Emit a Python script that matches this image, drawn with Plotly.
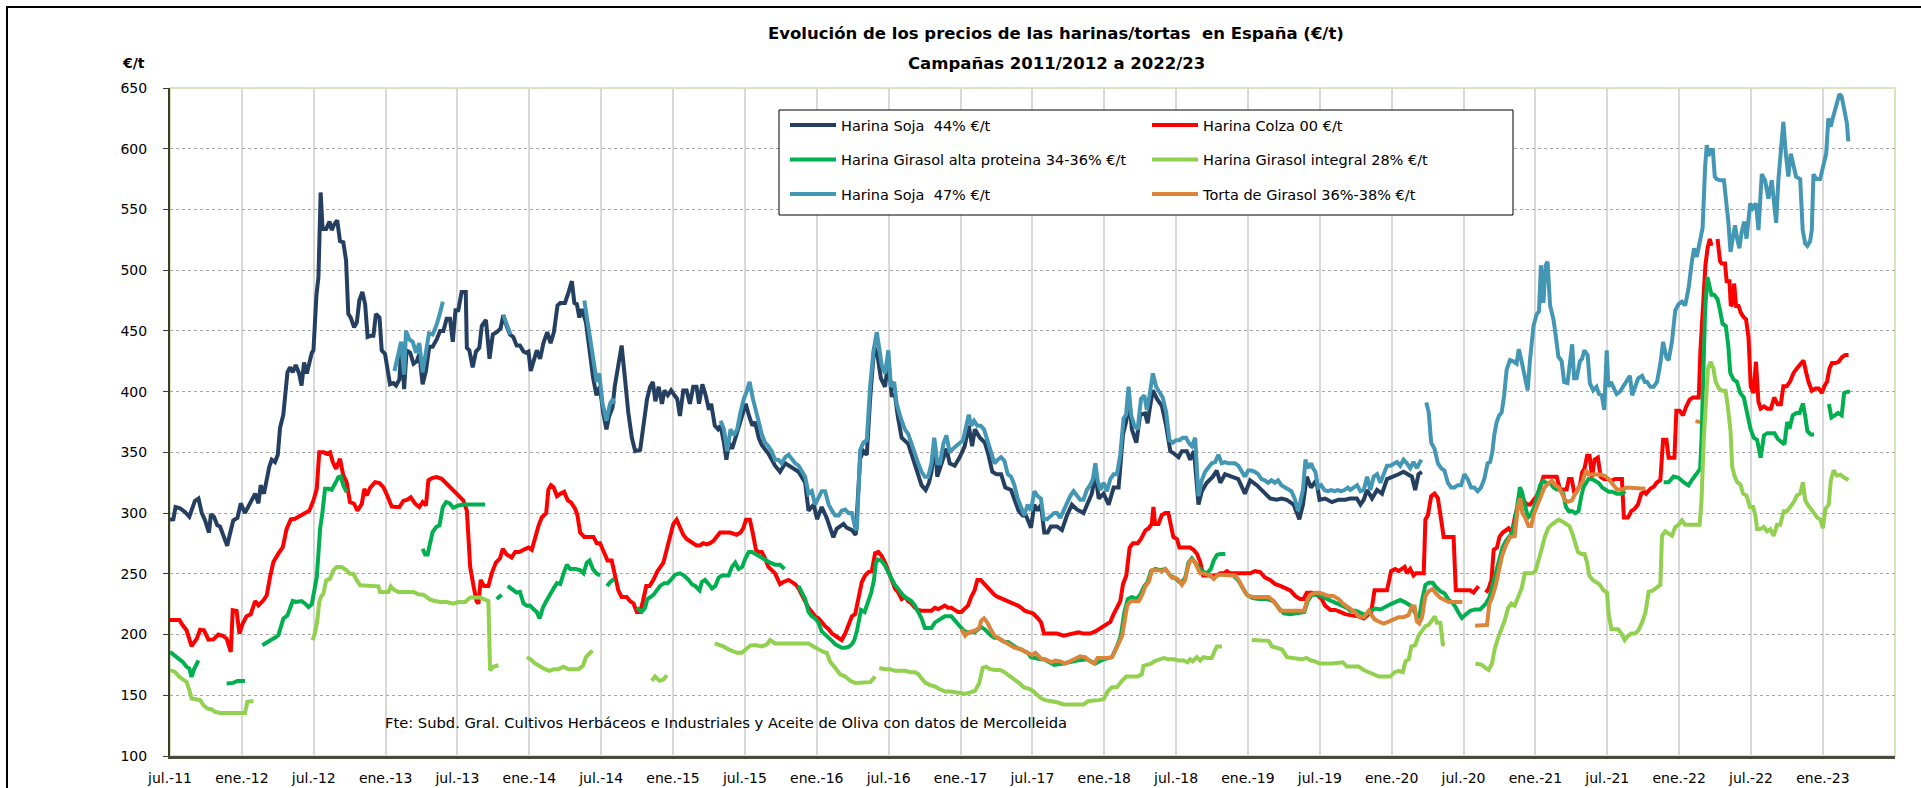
import plotly.graph_objects as go

# ---------------- axis categories ----------------
# x = week index counted from the first week of July 2011 (one category per week)
tick_weeks = list(range(0, 599, 26))
tick_labels = ["jul.-11", "ene.-12", "jul.-12", "ene.-13", "jul.-13", "ene.-14", "jul.-14",
               "ene.-15", "jul.-15", "ene.-16", "jul.-16", "ene.-17", "jul.-17", "ene.-18",
               "jul.-18", "ene.-19", "jul.-19", "ene.-20", "jul.-20", "ene.-21", "jul.-21",
               "ene.-22", "jul.-22", "ene.-23"]
y_ticks = list(range(100, 651, 50))

# ---------------- series (week, €/t); None = no quotation ----------------
soja44 = [
    (0, 294.5), (1.2, 295), (2, 305), (3.6, 304), (5.4, 301), (7, 297), (9, 310), (10.3, 312),
    (11.5, 300), (12.7, 294), (14.1, 284), (14.8, 299), (15.9, 297), (17.1, 290), (18.1, 289),
    (19.3, 282), (20.7, 273), (21.7, 283), (22.9, 294), (24.4, 296), (25.6, 308), (27.1, 300),
    (28.3, 305), (29.6, 312), (30.8, 316), (32, 308), (32.8, 323), (34, 316), (35, 330),
    (35.9, 338), (36.8, 344), (38, 342), (39, 348), (39.8, 370), (41, 381), (41.9, 398),
    (42.5, 416), (43.4, 420), (44.4, 416), (45.5, 422), (46.7, 415), (47.6, 405), (48.5, 424),
    (49.5, 415), (50.4, 424), (51.3, 432), (51.9, 434), (52.5, 464), (53, 480), (53.7, 494),
    (54.5, 564), (55.2, 534), (56.5, 534), (57.7, 540), (58.5, 533), (59.5, 538), (60.5, 541),
    (61.5, 524), (62.7, 523), (63.7, 508), (64.5, 464), (65.4, 461), (66.6, 453), (67.6, 457),
    (68.5, 475), (69.6, 482), (70.6, 472), (71.5, 445), (72.6, 446), (73.6, 446), (74.5, 464),
    (75.8, 461), (76.6, 434), (77.8, 431), (78.6, 420), (79.6, 406), (80.8, 407), (81.8, 405),
    (83, 410), (83.8, 441), (84.7, 402), (85.6, 434), (86.9, 432), (88.1, 423), (89.3, 425),
    (90.2, 431), (91.4, 406), (92.6, 417), (93.8, 437), (95, 437), (96.5, 443), (97.7, 450),
    (98.9, 450), (100.1, 460), (101.3, 460), (102.3, 441), (103.3, 467), (104.3, 467),
    (105.5, 482), (107, 482), (107.4, 436), (108.3, 434), (109.5, 420), (110.7, 433),
    (111.9, 436), (112.8, 454), (114.3, 459), (115.6, 427), (116.8, 447), (118.2, 449),
    (119.6, 452), (120.6, 463), (121.8, 454), (123, 447), (124.2, 445), (125.4, 438),
    (126.6, 438), (127.9, 433), (128.8, 432), (129.7, 433), (130.5, 417), (131.7, 426),
    (132.7, 434), (133.9, 427), (135.1, 440), (136.5, 449), (137.7, 440), (138.9, 449),
    (140.2, 471), (141.2, 473), (142.9, 473), (144.2, 482), (145.4, 491), (146.3, 473),
    (147.2, 472), (148.1, 461), (149, 468), (150.5, 457), (151.9, 433), (153.1, 411),
    (154.3, 397), (155.5, 404), (156.7, 383), (157.9, 369), (158.9, 380), (160.1, 387),
    (160.9, 404), (162.1, 422), (163.4, 438), (164.6, 411), (165.8, 383), (167.1, 362),
    (168.3, 351), (170.1, 352), (171.3, 372), (172.6, 394), (173.7, 404), (174.7, 408),
    (175.6, 392), (176.8, 404), (178, 390), (178.9, 401), (180.1, 397), (181.3, 401),
    (182.5, 397), (183.5, 394), (184.5, 380), (185.7, 401), (186.9, 401), (188.1, 390),
    (189.3, 404), (190.5, 404), (191.4, 390), (192.6, 406), (193.8, 397), (195, 385),
    (195.8, 390), (197.1, 372), (198.3, 369), (199.2, 372), (200.4, 358), (201.3, 344),
    (202.2, 358), (203.4, 353), (204.6, 362), (205.8, 372), (207.1, 381), (208.3, 390),
    (209.5, 380), (210.7, 372), (211.7, 375), (213, 362), (214.1, 356), (216.5, 349),
    (218.9, 339), (220.7, 334), (222.6, 341), (225, 337), (227.4, 334), (229.8, 325),
    (231, 302), (232.9, 307), (234.1, 295), (235.8, 305), (237.6, 296), (240, 280),
    (241.2, 287), (242.4, 289), (243.7, 291), (244.8, 288), (246.7, 286), (248.1, 282),
    (249.7, 345), (250.9, 351), (252.1, 348), (253.3, 394), (254.8, 437), (256, 429),
    (257.2, 411), (258.7, 404), (259.9, 426), (261.1, 397), (262.3, 397), (263.3, 380),
    (264.7, 362), (267.1, 357), (269.5, 341), (271.9, 323), (273.4, 319), (274.6, 325),
    (275.5, 334), (276.7, 358), (277.6, 330), (279.1, 341), (280.9, 353), (282.1, 341),
    (283.9, 339), (285.7, 346), (287.5, 355), (289, 372), (290.2, 355), (291.2, 369),
    (293, 362), (294.8, 358), (296, 349), (297.5, 334), (299, 332), (300.7, 332),
    (302.2, 321), (304.3, 319), (305.5, 312), (307, 302), (308.5, 298), (309.7, 298),
    (311.5, 288), (312.7, 307), (313.9, 302), (315.1, 307), (316.3, 284), (317.5, 284),
    (318.7, 289), (320.9, 289), (322.7, 286), (324.5, 298), (326.3, 307), (328.1, 303),
    (330.5, 300), (332.3, 311), (333.5, 316), (334.8, 332), (336, 312), (337.8, 316),
    (339.6, 307), (341.4, 321), (343.2, 321), (344.8, 365), (346, 376), (347, 395),
    (348, 369), (349.6, 358), (351, 381), (352.8, 382), (353.7, 374), (354.6, 388),
    (355.6, 401), (357.1, 394), (358.9, 388), (360.4, 372), (361.9, 351), (363.3, 349),
    (364.9, 346), (366.1, 351), (367.9, 351), (369.1, 344), (370.5, 351), (372.1, 307),
    (373.3, 318), (375.1, 325), (377.3, 330), (378.7, 335), (380, 325), (381.7, 332),
    (384.1, 330), (386.5, 328), (388.9, 316), (390.8, 327), (393.2, 323), (395.6, 318),
    (398, 312), (400.4, 311), (402.2, 312), (404, 311), (406.5, 307), (408.6, 295),
    (409.9, 307), (411.3, 330), (412.8, 321), (414.7, 327), (415.9, 311), (417.9, 312),
    (420.4, 309), (422.8, 311), (425.2, 311), (427, 312), (429.4, 312), (430.7, 307),
    (431.9, 311), (433.1, 319), (434.9, 312), (436.7, 319), (438.5, 316), (440.3, 328),
    (442.7, 330), (444.5, 332), (446.3, 334), (448.1, 332), (449.3, 330), (450.5, 319),
    (451.7, 332), (452.9, 334),
]

colza = [
    (0, 212), (3.4, 212), (4.6, 207.6), (6, 203.5), (7.8, 190.4), (9.7, 196.6), (10.9, 204),
    (12.3, 203.5), (13.9, 195.8), (15.7, 196), (17.5, 200), (19.1, 199), (20.5, 196.6),
    (22, 185.7), (22.7, 220), (24.1, 219.4), (25.1, 200.8), (26.3, 209), (27.7, 215),
    (29.2, 216.7), (30.8, 227.6), (32, 224), (33.8, 228.2), (35, 232.3), (36.2, 247.4),
    (37.4, 259.7), (39.2, 266.6), (40.8, 272), (42.2, 287), (43.7, 294.8), (45.2, 295.3),
    (47, 298), (48.9, 300), (50.4, 302), (51.9, 310.4), (53.1, 320), (54, 350), (55.7, 350),
    (56.7, 348.8), (57.9, 350), (58.9, 342), (60.1, 336.5), (61.5, 344.7), (62.7, 331),
    (63.9, 325.5), (65.1, 309), (66.6, 307.7), (67.8, 302), (69.4, 307.7), (70.3, 320),
    (71.2, 314.5), (72.4, 320.8), (74.2, 325.5), (75.8, 324.7), (77.2, 321.4), (78.6, 314.5),
    (80.2, 305.5), (81.8, 305), (83, 305), (84.4, 310), (85.9, 311), (87.1, 313),
    (88.7, 307.7), (90.2, 305), (91.4, 309), (92.6, 306.3), (93.5, 327), (95, 329),
    (96.5, 329.6), (98.3, 328.2), (100.1, 324), (101.3, 320.8), (102.5, 318.6),
    (104.3, 314.5), (106.1, 310.5), (107.4, 302), (108.6, 255.7), (109.8, 240),
    (110.9, 227.4), (111.6, 225.6), (112.4, 245), (113.6, 240), (115.2, 240), (116.4, 250.4),
    (117.9, 259.2), (119.4, 262.8), (120.4, 270.5), (121.8, 266), (123.6, 263.5), (124.9, 268),
    (126.4, 268), (127.9, 269.8), (129.7, 271.6), (130.9, 269.8), (132.1, 280.4),
    (133.3, 289.3), (134.5, 296.4), (136.1, 300), (136.9, 319.4), (137.8, 323), (138.8, 321.2),
    (140, 314), (141.2, 315.9), (142.6, 317.6), (143.9, 310.5), (145.1, 308.8), (146.6, 303.5),
    (147.4, 298.2), (148.4, 284), (149.9, 280.4), (153.2, 280.4), (154.4, 275.2),
    (155.6, 275.2), (157.1, 266.3), (158.3, 261), (159.8, 261), (161, 248.6), (162.2, 236.4),
    (163.4, 231), (165.2, 231), (166.5, 227.4), (167.7, 225.6), (168.9, 218.6), (170.1, 218.6),
    (171.1, 227.4), (172.3, 240), (173.5, 240), (174.9, 245), (176.3, 252), (177.3, 255.7),
    (178.5, 259.2), (179.7, 269.8), (180.9, 282.2), (182.1, 291), (183.3, 294.6),
    (184.5, 289.3), (185.7, 282.2), (186.9, 278.7), (188.1, 277), (189.3, 275.2),
    (190.5, 273.4), (191.7, 273.4), (192.9, 275.2), (194.2, 274.3), (195.4, 275.2),
    (196.6, 277), (197.8, 280.4), (199, 284), (202.6, 284), (203.8, 283.3), (205, 282.2),
    (206.4, 284), (207.4, 287.5), (208.4, 294.6), (209.8, 294.6), (210.8, 284), (212, 269.8),
    (212.9, 268), (214.1, 268), (215.3, 262.8), (216.5, 255.7), (217.7, 253), (218.9, 250.4),
    (220.7, 241.5), (221.9, 243.3), (223.8, 245), (225, 243.3), (226.2, 241.5), (227.4, 238),
    (228.6, 232.7), (229.8, 227.4), (231, 222), (232.2, 218.6), (233.4, 215), (234.6, 213.3),
    (235.8, 209.8), (237, 206.9), (238.3, 204.4), (239.5, 200.8), (240.7, 199),
    (241.9, 197.3), (243, 195.5), (244.3, 200.8), (245.5, 207.9), (246.7, 215), (247.9, 216.8),
    (249.1, 229.2), (250.3, 243.3), (251.5, 248.6), (252.7, 251.5), (253.9, 252.2),
    (255.1, 267), (256.3, 268), (257.5, 264.6), (258.7, 259.2), (259.9, 252.2), (261.1, 245),
    (262.3, 238), (263.5, 234.5), (264.7, 229.2), (265.9, 231), (267.1, 227.4),
    (268.3, 225.6), (269.5, 222), (270.7, 220.3), (271.9, 219.6), (275.5, 219.6),
    (276.7, 222), (277.9, 220.9), (279.1, 222), (280.3, 223.8), (281.5, 222), (282.7, 222),
    (283.9, 220.3), (285.1, 218.6), (286.3, 218.6), (287.5, 220.9), (288.7, 223.8),
    (289.9, 231), (291.1, 236.4), (292.1, 245), (293.3, 245), (294.7, 241.5), (296, 238),
    (297.1, 235.2), (298.3, 232.7), (299.5, 231), (301.4, 229.2), (303.2, 227.4),
    (305, 225.6), (306.8, 223.8), (308, 222), (309.2, 219.6), (310.4, 218.6), (312.2, 217.5),
    (314, 213.3), (315.2, 209.8), (316.2, 200.8), (320.9, 200.8), (323.3, 199),
    (325.1, 199.7), (326.9, 200.4), (328.7, 201.8), (330.5, 200.8), (332.9, 200.8),
    (334.8, 202.6), (336.6, 205.4), (338.4, 207.9), (340.2, 210.4), (341.4, 216.8),
    (342.6, 222), (343.8, 227.4), (344.8, 241.5), (346, 248.6), (347.2, 271.6),
    (348.4, 275.2), (350.1, 275.2), (351.3, 278.7), (352.9, 285.8), (354.1, 287.5),
    (355.2, 291), (355.8, 305), (356.4, 291), (357.6, 291), (358.8, 298.2), (360, 300),
    (361.2, 300), (362.1, 291), (363, 280.4), (364.3, 278.7), (365.2, 271.6), (369.1, 271.6),
    (370.3, 269.8), (371.6, 266.3), (372.8, 259.2), (373.8, 248.6), (378.8, 248.6),
    (380, 250.4), (381.2, 250.4), (382.4, 252.2), (383.6, 250.4), (390.8, 250.4),
    (392.6, 252.2), (394.4, 251.5), (396.2, 246.8), (398, 245), (399.9, 241.5), (401.7, 240),
    (403.5, 238), (405.3, 236.4), (407.1, 231.8), (408.9, 229.2), (410.1, 229.2),
    (411.3, 234.5), (413.1, 234.5), (414.9, 232.7), (416.7, 229.2), (417.9, 223.8),
    (419.8, 220.3), (421.6, 220.3), (423.4, 218.6), (425.2, 216.8), (427, 216), (430, 215),
    (431.9, 213.3), (433.7, 216.8), (434.6, 218.6), (435.8, 236.4), (440.3, 236.4),
    (441.8, 252.2), (443.3, 254), (444.5, 252.2), (445.7, 254), (446.7, 255.7), (447.5, 250.4),
    (448.7, 254), (449.9, 248.6), (450.8, 250.4), (453.6, 250.4), (454.2, 294.6),
    (455.1, 298.2), (456.3, 314), (457.5, 316), (458.7, 312.3), (459.9, 294.6),
    (460.8, 280.4), (464.4, 280.4), (465.2, 236.4), (470.4, 236.4), (471.6, 234.5),
    (473.4, 239.8), None,
    (476.1, 234.5), (477.1, 238), (478.1, 245), (478.9, 269.8), (480.1, 271.6), (481, 280.4),
    (482.2, 284), (483.4, 285.8), (484.3, 287.5), (485.5, 284), (486.7, 298.2), (487.9, 307),
    (488.9, 316), (489.7, 310.5), (490.9, 307), (492.1, 307), (493.3, 310.5), (494.5, 314),
    (495.7, 321), (496.9, 329.9), (501.7, 329.9), (502.9, 319.4), (505.3, 319.4),
    (506.1, 328.1), (507.1, 328.1), (508, 317.6), (508.9, 317.6), (510.1, 323),
    (510.9, 333.5), (511.8, 337), (512.7, 347.3), (513.6, 347.3), (514.5, 329.9),
    (515.4, 343.9), (516.6, 345.7), (517.6, 329.9), (518.8, 328.1), (520.2, 328.1),
    (521.4, 326.5), (522.9, 328.1), (525.3, 328.1), (526, 296.4), (527.5, 296.4),
    (528.7, 301.7), (529.9, 303.5), (531.1, 307), (532.3, 316), (533.5, 317.6), (534.1, 316),
    (535.6, 320), (536.8, 321.7), (538, 325.4), (539.2, 327.2), (540.2, 360.3),
    (541.4, 360.3), (542.2, 345.6), (544.3, 345.6), (545, 384.2), (546.2, 384.2),
    (547.4, 380.5), (548.6, 387.9), (549.8, 393.4), (551, 395.2), (553.1, 395.2),
    (553.7, 433.8), (554.7, 481.6), (555.5, 503.7), (556.3, 518.4), (557.1, 525.7),
    (557.7, 520.2), None,
    (559.9, 525.7), (560.8, 507.4), (561.4, 505.5), (562.6, 505.5), (563.2, 490.8),
    (564.2, 490.8), (564.7, 470.6), (565.4, 472.4), (565.9, 489), (566.6, 470.6),
    (567.5, 470.6), (568.3, 465), (569.3, 461.4), (570.2, 459.6), (571.1, 444.9),
    (571.9, 404.4), (572.9, 398.9), (573.8, 424.6), (574.7, 391.5), (575.5, 386),
    (576.7, 387.9), (577.9, 386), (579.2, 386), (580.4, 395.2), (581.6, 389.7),
    (582.8, 389.7), (583.7, 404.4), (584.9, 404.4), (586.1, 408.1), (587.4, 415.4),
    (588.6, 419.1), (589.8, 422.8), (591, 425.7), (592, 415.4), (592.8, 408.1), (594, 400.7),
    (595.3, 402.6), (596.5, 402.6), (597.7, 398.9), (598.5, 404.4), (599.5, 408.1),
    (600.4, 419.1), (601.3, 423.5), (602.5, 423.5), (603.7, 424.6), (604.9, 428.3),
    (606.1, 430.1), (607.3, 430.1),
]

girasol_alta = [
    (0, 185.7), (2.4, 181.6), (4.6, 177.5), (6, 173.4), (7, 172), (7.8, 165.1), (8.8, 172),
    (10.3, 178.8), None,
    (20.5, 159.6), (22.9, 160.2), (24.4, 161.8), (27.1, 161.8), None,
    (33.4, 191.2), (35, 193.1), (36.8, 195.8), (38, 197.5), (39.2, 199.4), (40, 206.2),
    (41, 213.1), (42.5, 215.8), (43.4, 222.7), (44.4, 227.6), (45.6, 226.8), (46.7, 226.8),
    (47.6, 227.6), (48.9, 225.4), (50.1, 222.7), (51.3, 224.9), (52.1, 235), (53.1, 247.4),
    (53.7, 266.6), (54.3, 287), (55.1, 299.5), (56.1, 320), (57.3, 320), (58.5, 319.2),
    (59.7, 324.1), (60.9, 329.6), (61.8, 330.2), (62.7, 322.8), (63.9, 317.3), None,
    (91.4, 270.7), (92.3, 266), (93.2, 266), (94.1, 277.5), (95, 284.4), (96.3, 288.5),
    (97.5, 289.9), (98.7, 304.9), (99.9, 309), (101.1, 308.2), (102.5, 304.4), (104.3, 306.3),
    (106.2, 307.1), (114, 307.1), None,
    (118.2, 229.2), (120, 232.7), None,
    (122.2, 240), (123.6, 238), (125.4, 234.5), (126.6, 235.2), (127.9, 225.6),
    (129.1, 223.8), (130.3, 223.8), (131.5, 221), (132.7, 218.6), (133.7, 213.3), (134.9, 222),
    (136.1, 227.4), (137.3, 232.7), (138.8, 238), (140, 242.3), (141.2, 241.5), (142.4, 250.4),
    (143.6, 257.5), (144.8, 254), (146.6, 254), (148.4, 253), (149.6, 250.4), (150.8, 259.2),
    (151.8, 261), (153, 254), (154.2, 250.4), (155.6, 248.6), None,
    (158.1, 240), (159.3, 243.3), (160.7, 245.8), None,
    (168.9, 222), (170.6, 218.6), (171.9, 222), (172.7, 229.2), (173.9, 231), (174.9, 232.7),
    (176.1, 236.4), (177.3, 240), (178.8, 242.3), (180, 242.3), (181.2, 245), (182.7, 249.3),
    (184.5, 250.4), (186, 248.6), (187.6, 245), (188.8, 241.5), (190, 240), (191.6, 236.4),
    (192.4, 243.3), (193.6, 245), (194.9, 241.5), (196.1, 238), (197.3, 240), (198.5, 246.9),
    (199.7, 248.6), (202.1, 248.6), (203.3, 255.7), (204.5, 259.2), (205.7, 254),
    (207, 255.7), (208.2, 262.8), (209.4, 268), (210.6, 268), (211.8, 266.3), (213.5, 264.5),
    (215.3, 261), (217.1, 259.2), (218.9, 257.5), (220.7, 257.5), (222.3, 254), None,
    (227.4, 240), (228.6, 234.5), (229.8, 229.2), (231, 218.6), (232.2, 215), (233.4, 213.3),
    (234.6, 209.8), (235.8, 202.6), (237, 199.7), (238.3, 197.3), (239.5, 194.8), (240.7, 192),
    (241.9, 190.2), (243, 189.2), (244.3, 189.2), (245.5, 189.9), (246.7, 192),
    (247.6, 195.5), (248.5, 202.6), (249.3, 211.5), (250, 220.3), (251.3, 218.6),
    (252.5, 227.4), (253.7, 234.5), (254.7, 245), (255.4, 259.2), (256.1, 261.7),
    (257.3, 261), (258.5, 257.5), (259.7, 252.2), (260.9, 246.8), (262.1, 241.5),
    (263.3, 238), (264.5, 234.5), (265.7, 231), (267.1, 229.2), (268.3, 227.4),
    (269.5, 223.8), (270.7, 218.6), (271.9, 213.3), (273.1, 205.4), (275.5, 205.4),
    (276.7, 209.8), (277.9, 211.5), (279.1, 213.3), (280.3, 215), (282.7, 215),
    (283.9, 211.5), (285.1, 208), (286.3, 205.4), (287.5, 202.6), (288.7, 201.8),
    (291.1, 201.8), (292.3, 204.4), (293.5, 206.2), (294.7, 204.4), (296, 200.8),
    (297.1, 199), (298.3, 197.3), (299.5, 197.3), (300.7, 195.5), (301.9, 193.8),
    (303.2, 193.8), (304.3, 192), (305.5, 190.2), (306.7, 188.5), (307.9, 187.8),
    (309.1, 186.7), (310.3, 185), (311.5, 181.4), (312.7, 180.7), (313.9, 180.7),
    (315.1, 179.6), (316.3, 179.6), (317.5, 177.9), (318.7, 176.1), (319.9, 175),
    (323.3, 176.1), (328.1, 178.6), (331.7, 179.6), (334.8, 176.1), (337.8, 179.6),
    (340.8, 181.4), (342.6, 190.2), (344, 199), (345.3, 218.6), (346.5, 229.2), (348, 231),
    (349.6, 229.2), (351, 232.7), (352.5, 240), (353.7, 243.3), (354.9, 252.2), (356.5, 254),
    (358.3, 253), (360.1, 254), (361.9, 248.6), (364, 245.8), (365.7, 242.3), (367.3, 246.8),
    (368.5, 259.2), (369.7, 262.8), (371.5, 257.5), (373.3, 252.2), (375.1, 250.4),
    (376.6, 254), (377.6, 261), (378.8, 265.6), (380.2, 266.3), (381.8, 266.3), None,
    (382.4, 249.3), (384.8, 248.6), (386.6, 244.2), (388.2, 237.9), (389.6, 232.7),
    (391.5, 230.2), (393.8, 229.2), (396.8, 229.2), (399.3, 227.4), (401.1, 222), (403, 217.5),
    (405.3, 216.8), (408.3, 217.5), (410.4, 218.6), (411.6, 227.4), (413.1, 232.7),
    (414.9, 232.7), (416.7, 231.8), (418.6, 229.2), (420.4, 227.4), (422.2, 225.6),
    (424, 223.8), (425.8, 222), (427, 219.6), (429, 219.6), (430.7, 217.9), (432.6, 216.1),
    (434.3, 219.6), (436.1, 221.4), (438, 220.7), (439.7, 223.1), (441.5, 224.9),
    (443.3, 226.7), (445.1, 228.4), (446.7, 226.7), (448.1, 224.9), (449.3, 223.1),
    (450.8, 216.1), (452, 214.3), (453, 228.4), (454.2, 240.9), (455.4, 242.7),
    (456.8, 242.7), (458, 239.1), (459.6, 235.6), (461.2, 233.8), (462.6, 228.4),
    (463.8, 226.7), (465, 223.1), (466.2, 217.9), (467.4, 213.6), (468.6, 216.1),
    (470.4, 219.6), (472.2, 220.7), (474, 220.7), (475.9, 224.9), (477.3, 230.2),
    (478.5, 240.9), (479.7, 250.4), (480.9, 261), (482.1, 271.6), (483.3, 277),
    (484.5, 280.4), (485.7, 284), (486.7, 294.6), (487.6, 312.3), (488.4, 321.2),
    (489.1, 317.6), (490.3, 307), (491.3, 296.4), (492.2, 298.2), (493.3, 303.5),
    (494.5, 312.3), (495.7, 323), (496.9, 326.5), (498.1, 324.7), (499.3, 324.7),
    (500.5, 321.2), (501.7, 319.4), (502.9, 319.4), (504.1, 316), (505, 305.3), (506, 301.7),
    (507.2, 301.7), (508.4, 300), (509.6, 301.7), (510.6, 314), (511.4, 321.2),
    (512.3, 324.7), (513.2, 328.1), (514.5, 328.1), (515.7, 326.5), (516.9, 324.7),
    (518.1, 321.2), (519.3, 319.4), (520.5, 317.6), (521.7, 317.6), (523.5, 316),
    (525.3, 316), (526.5, 318), None,
    (540.4, 325.4), (542.2, 325.4), (544, 330.1), (545.8, 329), (547.6, 325.4),
    (549.4, 322.8), (550.6, 327.2), (552.2, 332.7), (553.6, 336.4), (554.1, 360.3),
    (554.8, 415.4), (555.4, 466.9), (556.2, 494.5), (556.9, 489), (557.7, 479.8),
    (558.7, 479.8), (559.9, 476.1), (560.8, 466.9), (561.7, 455.9), (562.9, 454),
    (563.8, 437.5), (564.5, 415.4), (565.7, 409.9), (566.9, 408.1), (568.1, 398.9),
    (569.4, 395.2), (570.6, 382.4), (571.8, 369.5), (573, 362.1), (574.2, 360.3),
    (575.5, 345.6), (576.7, 363.9), (577.9, 365.8), (580.5, 365.8), (581.7, 361),
    (582.9, 358.5), (584.1, 356.6), (585.1, 375), (585.9, 369.5), (587.1, 380.5),
    (588.4, 382.4), (589.6, 382.4), (590.8, 390.4), (591.7, 378.7), (592.4, 367.6),
    (593.6, 364.7), (594.8, 364.7), None,
    (600.2, 389.7), (601.1, 378.7), (602.3, 380.5), (603.5, 382.4), (604.8, 380.5),
    (605.7, 398.9), (607, 400), (607.8, 400),
]

girasol_integral = [
    (0, 170.6), (1.8, 169.2), (3.4, 165.1), (4.8, 162.4), (6, 161), (7, 154.2), (7.8, 147.3),
    (9.7, 146.5), (10.9, 146), (12.1, 141.8), (13.5, 139.1), (15.1, 138.3), (16.3, 136.4),
    (18.1, 135.5), (27.1, 135.5), (28, 144.6), (30.2, 145.4), None,
    (51.6, 195.3), (52.5, 202.1), (53.3, 211.7), (54, 226.8), (54.6, 231), (55.5, 233.7),
    (56.5, 244.6), (57.9, 246), (59.1, 252.9), (60.3, 255.6), (62.1, 255.6), (63.9, 252.9),
    (65.1, 250.1), (66.3, 250.1), (67.6, 244.6), (68.8, 240.5), (75.4, 239.7), (76, 235),
    (79, 235), (79.9, 239.7), (81, 237), (82.6, 235), (88.1, 235), (89.9, 233.1),
    (91.7, 232.8), (92.9, 231), (94.1, 228.7), (95.9, 227.6), (97.7, 226.8), (100.1, 226.8),
    (102.5, 225.4), (104.3, 226.8), (106.8, 226.8), (108.6, 230.4), (112.2, 230.4),
    (114, 228.7), (115.2, 227.6), (115.8, 170.6), (117, 173.4), (118.8, 174.7), None,
    (129.1, 181.4), (130.5, 179.6), (132.1, 176.1), (133.9, 173.6), (135.7, 171.5),
    (137.3, 170.1), (138.8, 171.5), (140.5, 171.5), (142.4, 173.6), (144.2, 171.5),
    (147.8, 171.5), (149.4, 174.3), (150.5, 181.4), (152, 185), (152.9, 186.7), None,
    (174.3, 161.9), (175.5, 165.4), (177.1, 161.9), (178.5, 163), (179.7, 166.5), None,
    (197.1, 192.7), (198.4, 192), (200.2, 190.2), (202.1, 187.8), (203.6, 186.7),
    (205.1, 185), (206.9, 185), (208.4, 188.5), (209.9, 190.9), (211.7, 191.3),
    (214.1, 190.2), (216, 192), (217.1, 195.5), (218.9, 192.7), (231, 192.7), (232.8, 190.2),
    (234.6, 187.8), (236.4, 185.7), (237.6, 185), (238.8, 177.9), (240.7, 172.5),
    (242.5, 167.2), (244.3, 165.4), (246.1, 161.9), (247.9, 160.2), (251.5, 160.2),
    (253.4, 160.8), (255.1, 165.4), None,
    (256.6, 172.5), (258.7, 171.5), (260.5, 171.5), (262.3, 170.1), (265.9, 170.1),
    (267.8, 169), (269.5, 169), (270.8, 167.2), (272, 163.7), (273.3, 160.2), (275, 158.4),
    (276.7, 157.3), (278.7, 154.8), (280.5, 153.1), (282.3, 153.1), (284.1, 152.4),
    (285.9, 151.3), (287.7, 151.3), (289.6, 152.4), (291.3, 153.8), (292.8, 160.2),
    (294, 172.5), (295.2, 173.6), (296.7, 171.5), (298.5, 170.8), (300.4, 170.8),
    (301.9, 169), (303.4, 166.5), (304.8, 163.7), (306.4, 161.9), (307.6, 159.4),
    (308.8, 156.6), (310, 155.9), (311.3, 154.8), (312.5, 153.1), (313.7, 150.3),
    (314.9, 147.8), (316.6, 146), (318.5, 145.3), (320.9, 144.2), (323.3, 142.5),
    (330.5, 142.5), (332.3, 145.3), (334.1, 145.3), (335.9, 146), (337.8, 146.7),
    (339.2, 153.1), (340.8, 156.6), (342.6, 156.6), (344.4, 161.9), (346, 165.4),
    (350.1, 165.4), (351.6, 167.2), (352.2, 174.3), (353.7, 175), (354.9, 176.1),
    (356.1, 177.9), (357.7, 179.6), (359.5, 180.7), (361.3, 179.6), (363.1, 179.6),
    (364.9, 178.6), (366.7, 178.6), (368.1, 177.2), (369.1, 179.6), (370, 177.9),
    (371.5, 181.4), (372.7, 178.6), (373.9, 181.4), (375.4, 180.7), (376.9, 180.7),
    (377.8, 185.7), (378.8, 190.2), (380.6, 190.2), None,
    (391.4, 195.5), (395.7, 195.5), (397.5, 194.8), (398.7, 190.2), (400.5, 189.2),
    (402.3, 187.8), (404.1, 181.4), (405.9, 180.7), (407.7, 180.7), (409.5, 179.6),
    (411.1, 180.7), (412.8, 178.6), (414.3, 177.9), (415.9, 176.1), (420.4, 176.1),
    (422.8, 177.2), (424.3, 177.2), (425.8, 173.6), (430, 173.6), (431.9, 170.8),
    (433.7, 169), (435.5, 166.5), (437.3, 165.4), (441.5, 165.4), (443.1, 169),
    (444.5, 170.1), (446, 169), (447, 177.9), (448.2, 179.6), (449.1, 190.2), (450.5, 191.3),
    (451.7, 199), (452.9, 202.6), (454.2, 206.9), (455.4, 207.9), (456.6, 211.5),
    (457.6, 215), (458.4, 209.8), (459.6, 209.8), (460.5, 192), (461.2, 191.3), None,
    (472.3, 176.1), (474.7, 175), (475.9, 172.5), (477.1, 170.8), (478.3, 176.1),
    (479.3, 188.5), (480.5, 197.3), (481.7, 204.4), (482.9, 211.5), (484.1, 222),
    (485.3, 225.6), (486.5, 223.8), (487.7, 231), (489, 238), (490.2, 250.4), (492.8, 250.4),
    (494, 252.2), (495, 259.2), (496.2, 269.8), (497.4, 280.4), (498.6, 287.5),
    (499.8, 290.4), (501, 292.8), (502.4, 294.6), (503.9, 292.8), (505.1, 291),
    (506.3, 289.3), (507.5, 282.2), (508.5, 273.4), (509.4, 268), (510.6, 266.3),
    (511.8, 266.3), (512.7, 259.2), (513.5, 248.6), (514.7, 245), (515.9, 243.3),
    (517.1, 241.5), (518.7, 236.4), (519.9, 234.5), (520.5, 216.8), (521.5, 204.4),
    (523.9, 204.4), (525.1, 200.8), (526.3, 195.5), (527.5, 199), (528.7, 200.8),
    (530.2, 201), (531.4, 204), (532.6, 210), (533.8, 218), (535, 235.3), (536.2, 236),
    (538, 239), (539.2, 240.8), (539.8, 281.3), (541, 285), (542.2, 283.1), (543.4, 281.3),
    (544.6, 288.6), (545.8, 290.4), (547, 294.1), (548.2, 290.4), (553.4, 290.4),
    (554.1, 310.7), (554.9, 360.3), (555.7, 400.7), (556.4, 419.1), (557.4, 424.6),
    (558.4, 419.1), (559.2, 408.1), (560.4, 402.6), (561.6, 400.7), (562.8, 400.7),
    (563.6, 387.9), (564.6, 367.6), (565.2, 338.2), (566, 330.9), (567, 325.4),
    (568.2, 323.5), (569.1, 316.2), (570.4, 314.3), (571.6, 305.1), (572.8, 305.1),
    (573.6, 297.8), (574.2, 286.8), (575.4, 286.8), (576.6, 288.6), (577.8, 285),
    (579, 286.8), (580.2, 281.3), (581.4, 290.4), (582.6, 290.4), (583.8, 301.5),
    (585, 301.5), (586.2, 305.1), (587.4, 308.8), (588.6, 314.3), (589.8, 316.2),
    (590.8, 325.4), (591.6, 310.7), (592.5, 307), (593.7, 303.3), (594.9, 299.6),
    (596.1, 296), (597.1, 294.9), (598, 287.5), (598.9, 303.3), (600.1, 307),
    (600.9, 327.2), (601.9, 335.3), (603.1, 330.9), (604.3, 331.6), (605.8, 329),
    (607.3, 327.2),
]

soja47 = [
    (81.2, 417), (82.6, 431), (83.6, 441), (84.7, 414), (85.4, 450), (86.6, 443), (87.8, 441),
    (89, 432), (90.2, 440), (91.4, 416), (92.6, 433), (93.7, 448), (95, 447), (96.3, 454),
    (97.5, 463), (98.7, 474), None,
    (120.6, 463), (121.8, 456), (123.2, 447), None,
    (149.9, 475), (151.2, 454), (152.4, 436), (153.6, 418), (154.4, 408), (155.3, 415),
    (156.5, 390), (157.9, 376), (159.2, 390), (160.2, 394), (160.7, 390), None,
    (199.2, 376), (200.4, 369), (201.6, 351), (202.8, 369), (204, 364), (205.2, 369),
    (206.4, 383), (207.6, 394), (208.8, 401), (209.7, 408), (210.9, 394), (212.3, 383),
    (212.9, 376), (214.1, 365), (215.3, 358), (216.5, 355), (217.7, 351), (218.9, 344),
    (220.1, 344), (221.3, 341), (222.6, 346), (223.8, 348), (225, 344), (226.2, 341),
    (227.4, 339), (228.6, 335), (229.8, 330), (231, 316), (232.2, 318), (233.4, 307),
    (234.6, 312), (235.8, 318), (237, 318), (238.3, 307), (239.5, 302), (240.7, 298),
    (241.9, 298), (243, 302), (244.3, 303), (245.5, 300), (246.7, 300), (247.9, 288),
    (248.5, 286), (249.7, 352), (250.9, 358), (252.1, 360), (253.3, 404), (254.5, 433),
    (255.7, 449), (256.5, 436), (257.5, 422), (258.7, 415), (259.9, 434), (260.8, 404),
    (262, 408), (262.9, 390), (264.1, 380), (264.7, 376), (265.9, 369), (267.1, 365),
    (268.3, 357), (269.5, 348), (270.7, 341), (271.9, 334), (273.1, 330), (274.3, 330),
    (275.5, 341), (276.5, 362), (277.6, 341), (278.6, 341), (279.8, 357), (280.9, 364),
    (282.1, 350), (283.3, 353), (284.5, 355), (285.7, 357), (286.9, 360), (288.1, 372),
    (289, 381), (289.9, 372), (290.9, 376), (292.1, 372), (293.3, 372), (294.5, 369),
    (295.7, 360), (297.1, 348), (298.3, 341), (299.5, 344), (300.7, 346), (301.9, 343),
    (303.1, 332), (304.3, 330), (305.5, 323), (306.7, 312), (307.9, 305), (309.1, 298),
    (310.3, 307), (311.5, 302), (312.7, 318), (313.9, 314), (315.1, 312), (316.1, 295),
    (317.3, 295), (318.7, 298), (319.9, 300), (320.9, 300), (322.1, 296), (323.3, 302),
    (324.5, 309), (325.7, 314), (326.9, 318), (328.1, 314), (329.3, 311), (330.5, 311),
    (331.7, 319), (332.9, 323), (333.9, 328), (334.8, 341), (335.6, 327), (336.6, 319),
    (337.8, 325), (339, 318), (340.2, 328), (341.4, 332), (342.6, 332), (343.8, 348),
    (345, 378), (345.9, 381), (346.8, 404), (347.7, 381), (348.9, 372), (350.1, 369),
    (351.3, 394), (352.5, 397), (353.4, 385), (354.4, 397), (355.6, 415), (356.8, 404),
    (358, 399), (359.2, 395), (360.4, 383), (361.6, 360), (362.8, 358), (364, 360),
    (365.2, 360), (366.4, 362), (367.6, 362), (368.8, 357), (369.7, 355), (370.9, 362),
    (372.1, 314), (373.3, 327), (374.5, 334), (375.7, 337), (376.9, 341), (378.1, 342),
    (379.3, 348), (380.5, 341), (381.7, 342), (382.9, 341), (385.3, 341), (386.5, 339),
    (387.7, 335), (388.9, 330), (390.1, 335), (391.3, 335), (392.5, 334), (393.7, 332),
    (394.9, 328), (396.1, 327), (397.3, 325), (398.5, 327), (399.7, 325), (400.9, 327),
    (402.1, 323), (403.3, 321), (404.5, 319), (405.7, 318), (406.9, 312), (408.1, 302),
    (408.9, 309), (409.9, 319), (410.8, 344), (411.7, 337), (412.9, 341), (413.5, 337),
    (414.4, 334), (415.4, 321), (416.5, 323), (417.7, 319), (418.9, 318), (420.1, 319),
    (421.3, 318), (422.5, 319), (423.7, 318), (424.9, 319), (426.1, 321), (427, 319),
    (428.2, 321), (429.5, 323), (430.7, 318), (431.9, 319), (433.1, 330), (434.3, 319),
    (435.5, 330), (436.7, 332), (437.9, 325), (439.1, 332), (440.3, 339), (441.5, 339),
    (442.7, 341), (443.9, 342), (445.1, 339), (446.3, 344), (447.5, 341), (448.7, 337),
    (449.9, 342), (451.1, 337), (452.7, 344), None,
    (454.5, 391), (455.4, 383), (456.3, 358), (457.5, 353), (458.7, 341), (459.9, 337),
    (461.1, 335), (462.3, 325), (463.5, 321), (464.7, 321), (465.9, 323), (467.1, 323),
    (468.3, 332), (469.5, 328), (470.7, 321), (471.9, 321), (473.1, 318), (474.3, 321),
    (475.5, 328), (476.7, 341), (477.6, 342), (478.4, 350), (479.1, 364), (480, 375),
    (480.8, 380), (481.8, 383), (482.7, 397), (483.6, 418), (484.8, 426), (486, 425),
    (487.2, 423), (488, 435), (489, 425), (490, 415), (491.2, 401), (492, 425), (493.3, 454),
    (494.5, 464), (495.3, 466), (496, 504), (496.9, 473), (497.7, 504), (498.4, 507),
    (499.3, 471), (500.5, 460), (501.3, 447), (502.3, 429), (503.5, 425), (504.4, 408),
    (505.6, 407), (506.5, 425), (507.3, 439), (508, 411), (508.9, 411), (510.1, 425),
    (510.9, 427), (511.7, 434), (512.9, 430), (513.7, 407), (514.9, 401), (516.1, 404),
    (517, 398), (518, 397), (518.9, 385), (519.8, 434), (520.4, 404), (521.3, 408),
    (522.2, 404), (523.4, 398), (524.6, 400), (525.8, 404), (527, 408), (528.2, 413),
    (529, 397), (530, 404), (531.2, 411), (532.6, 413), (533.6, 408), (534.4, 408),
    (535.6, 404), (536.8, 404), (538, 408), (539.2, 423), (540.2, 441), (541.4, 428),
    (542.2, 426), (543.4, 441), (544.6, 467), (545.8, 472), (547, 474), (548.2, 471),
    (549.4, 485), (550.6, 507), (551.4, 518), (552.4, 511), (553.6, 526), (554.5, 535),
    (555.4, 585), (556, 603), (556.6, 594), (557.4, 599), (558.2, 599), (558.9, 577),
    (559.6, 575), (560.8, 574), (562.2, 574), (563, 559), (563.8, 540), (564.6, 515),
    (565.4, 526), (566.2, 537), (567, 526), (567.8, 518), (568.6, 531), (569.5, 540),
    (570.4, 526), (571.7, 555), (572.6, 551), (573.8, 555), (574.7, 533), (575.9, 579),
    (577.1, 574), (578.3, 559), (579.5, 574), (580.4, 551), (581.1, 539), (581.9, 574),
    (582.8, 599), (583.7, 622), (584.6, 596), (585.5, 577), (586.4, 596), (587.4, 585),
    (588.3, 577), (589.8, 575), (590.7, 533), (591.6, 522), (592.4, 520), (593.4, 524),
    (594, 533), (594.6, 579), (595.6, 575), (597, 575), (598.2, 588), (599.2, 596),
    (600, 625), (600.8, 618), (601.8, 627), (603, 638), (604, 645), (604.8, 643),
    (605.7, 634), (606.7, 621), (607.2, 606),
]

torta_girasol = [
    (286.3, 204.4), (287.7, 199), (288.9, 201.8), (290.1, 202.6), (291.3, 203.3),
    (292.7, 205.4), (293.5, 211.5), (294.5, 213.3), (295.7, 209.8), (296.9, 204.4),
    (298.3, 199), (299.5, 197.3), (300.7, 195.5), (301.9, 193.8), (303.1, 192.7),
    (304.3, 190.2), (305.5, 189.2), (306.9, 188.5), (308, 187.8), (309.5, 185.7),
    (310.7, 184.3), (311.9, 183.2), (313.1, 185), (314.3, 182.1), (315.5, 179.6),
    (316.7, 179.6), (317.9, 178.6), (319.1, 177.2), (320.2, 178.6), (322.1, 177.9),
    (323.9, 176.1), (325.7, 177.9), (327.5, 180.4), (329.3, 182.1), (331.1, 181.4),
    (332.9, 177.9), (334.4, 176.1), (335.6, 180.7), (339, 180.7), (340.8, 181.4),
    (342, 186.7), (343.2, 192), (344.5, 199), (345.3, 209.8), (346.3, 223.8), (347.5, 227.4),
    (350.5, 227.4), (351.7, 232.7), (352.9, 240), (354.1, 243.3), (355.3, 253),
    (357.7, 253), (358.9, 252.2), (360.1, 254), (361.3, 250.4), (362.5, 246.8),
    (363.7, 246.8), (364.9, 245), (366.1, 240.9), (367.3, 245), (368.1, 254), (369.1, 261),
    (370, 261.7), (370.9, 259.2), (371.9, 254), (372.7, 250.4), (373.9, 250.4),
    (375.1, 249.3), (376.4, 248.6), (377.6, 245.8), (378.8, 248.6), (380, 249.3),
    (383.6, 249.3), (385.4, 248.6), (386.6, 245), (387.8, 240), (389, 234.5), (390.2, 231.8),
    (392, 231), (397.5, 231), (399, 228.1), (400.5, 223.8), (401.7, 219.6), (410.3, 219.6),
    (411.3, 227.4), (412.5, 232.7), (414.3, 234.5), (415.9, 234.5), (417.6, 232.7),
    (419.1, 231.8), (420.9, 231.8), (422.8, 229.2), (424.3, 225.6), (425.8, 223.1),
    (427, 220.7), (429, 217.9), (430, 215), (431.9, 214.3), (433.7, 219.6), (434.6, 216.1),
    (435.8, 212.5), (437.3, 210.7), (439.1, 209), (440.9, 210.7), (442.7, 212.5),
    (444.5, 214.3), (446.3, 214.3), (448.1, 216.1), (449.3, 223.1), (450.3, 223.1),
    (451.1, 210.7), (452, 209), (453, 214.3), (454.2, 232), (455.4, 235.6), (456.8, 237.4),
    (458, 233.8), (459.6, 230.2), (461.2, 228.4), (462.6, 226.7), (467.6, 226.7), None,
    (472.2, 207.2), (474, 207.2), (476.5, 207.9), (477.3, 224.9), (478.3, 230.2),
    (479.5, 239.1), (480.4, 247.9), (481.9, 264.5), (483.3, 273.4), (484.9, 280.4),
    (486.5, 281), (487.7, 305.3), (488.5, 312.3), (489.3, 300), (490.3, 296.4),
    (491.5, 289.3), (492.5, 289.3), (493.3, 298.2), (494.5, 305.3), (495.7, 312.3),
    (497.3, 321.2), (498.8, 324.7), (500, 326.5), (501.2, 323), (502.4, 321.2), (503.6, 316),
    (504.8, 310.5), (506, 309.4), (507.2, 310.5), (508.4, 316), (509.6, 321.2),
    (511.1, 326.5), (512.3, 335.4), (513.2, 331.8), (517.5, 331.8), (519, 330.7),
    (520.5, 328.1), (521.7, 324.7), (523.5, 319.4), (525.3, 319.4), (527.1, 321),
    (533.8, 320), None,
    (551.9, 375.7), (553.6, 375),
]

series = [
    ("Harina Soja  44% €/t", soja44, "#243f60", "legend"),
    ("Harina Colza 00 €/t", colza, "#ff0000", "legend"),
    ("Harina Girasol alta proteina 34-36% €/t", girasol_alta, "#00b050", "legend2"),
    ("Harina Girasol integral 28% €/t", girasol_integral, "#92d050", "legend2"),
    ("Harina Soja  47% €/t", soja47, "#4397b4", "legend3"),
    ("Torta de Girasol 36%-38% €/t", torta_girasol, "#dd843b", "legend3"),
]


def split(points):
    xs, ys = [], []
    for p in points:
        if p is None:
            xs.append(None)
            ys.append(None)
        else:
            xs.append(p[0])
            ys.append(p[1])
    return xs, ys


FONT = "DejaVu Sans"
fig = go.Figure()
for name, pts, color, leg in series:
    xs, ys = split(pts)
    fig.add_trace(go.Scatter(
        x=xs, y=ys, mode="lines", name=name, legend=leg, connectgaps=False,
        line=dict(color=color, width=4), hoverinfo="skip"))

legend_common = dict(
    orientation="h", xanchor="left", yanchor="middle", x=(785 - 170) / 1725,
    entrywidth=301, entrywidthmode="pixels", itemwidth=46,
    bgcolor="rgba(0,0,0,0)", borderwidth=0,
    font=dict(family=FONT, size=14.5, color="#000000"))

fig.update_layout(
    width=1921, height=788,
    margin=dict(l=170, r=26, t=88, b=32, autoexpand=False),
    paper_bgcolor="white", plot_bgcolor="white",
    showlegend=True,
    legend=dict(legend_common, y=(756 - 125) / 668),
    legend2=dict(legend_common, y=(756 - 159.5) / 668),
    legend3=dict(legend_common, y=(756 - 194) / 668),
    xaxis=dict(
        range=[0, 624.1], tickmode="array", tickvals=tick_weeks, ticktext=tick_labels,
        showgrid=True, gridcolor="#d9d9d9", gridwidth=2, griddash="solid", zeroline=False,
        showline=True, linecolor="#4a4a3c", linewidth=3, ticks="",
        ticklabelstandoff=7,
        tickfont=dict(family=FONT, size=14, color="#000000")),
    yaxis=dict(
        range=[100, 650], tickmode="array", tickvals=y_ticks,
        showgrid=True, gridcolor="#a6a6a6", gridwidth=1, griddash="dot", zeroline=False,
        showline=True, linecolor="#3c3c2c", linewidth=2, ticks="outside", ticklen=5,
        tickcolor="#3c3c2c", ticklabelstandoff=13,
        tickfont=dict(family=FONT, size=14, color="#000000")),
    shapes=[
        # plot-area border (light green)
        dict(type="rect", xref="paper", yref="paper", x0=0, y0=0, x1=1, y1=1,
             line=dict(color="#d7e4bd", width=2), layer="between"),
        # legend frame
        dict(type="rect", xref="paper", yref="paper",
             x0=(779 - 170) / 1725, x1=(1513 - 170) / 1725,
             y0=(756 - 215) / 668, y1=(756 - 110) / 668,
             line=dict(color="#000000", width=1), fillcolor="white", layer="above"),
        # outer chart frame
        dict(type="rect", xref="paper", yref="paper",
             x0=(7 - 170) / 1725, x1=(1940 - 170) / 1725,
             y0=(756 - 810) / 668, y1=(756 - 7) / 668,
             line=dict(color="#000000", width=2), layer="above"),
    ],
    annotations=[
        dict(text="<b>Evolución de los precios de las harinas/tortas  en España (€/t)</b>",
             xref="paper", yref="paper", x=(1056 - 170) / 1725, y=(756 - 34) / 668,
             xanchor="center", yanchor="middle", showarrow=False,
             font=dict(family=FONT, size=16.5, color="#000000")),
        dict(text="<b>Campañas 2011/2012 a 2022/23</b>",
             xref="paper", yref="paper", x=(1056 - 170) / 1725, y=(756 - 64) / 668,
             xanchor="center", yanchor="middle", showarrow=False,
             font=dict(family=FONT, size=16.5, color="#000000")),
        dict(text="<b>€/t</b>", xref="paper", yref="paper",
             x=(133 - 170) / 1725, y=(756 - 63) / 668, xanchor="center", yanchor="middle",
             showarrow=False, font=dict(family=FONT, size=14, color="#000000")),
        dict(text="Fte: Subd. Gral. Cultivos Herbáceos e Industriales y Aceite de Oliva con datos de Mercolleida",
             xref="paper", yref="paper", x=(383 - 170) / 1725, y=(756 - 722) / 668,
             xanchor="left", yanchor="middle", showarrow=False,
             font=dict(family=FONT, size=14.7, color="#000000")),
    ],
)

fig.write_html("out.html",
               config={"displayModeBar": False, "staticPlot": True},
               post_script="document.body.style.margin='0';document.body.style.overflow='hidden';")
